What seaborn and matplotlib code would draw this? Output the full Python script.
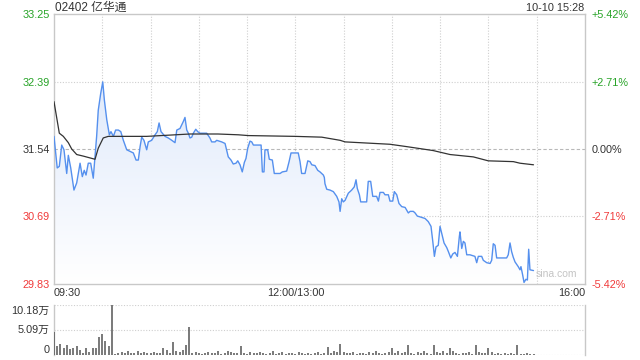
import numpy as np
import pandas as pd
import matplotlib
matplotlib.use("Agg")
import matplotlib.pyplot as plt
import seaborn as sns
from matplotlib.colors import LinearSegmentedColormap

sns.set_theme(style="white")
plt.rcParams['font.family'] = ['Liberation Sans', 'Noto Sans CJK SC', 'DejaVu Sans']

title = "02402 亿华通"
stamp = "10-10 15:28"
prev_close = 31.54
price_ticks = [33.25, 32.39, 31.54, 30.69, 29.83]
price_labels = ["33.25", "32.39", "31.54", "30.69", "29.83"]
pct_labels = ["+5.42%", "+2.71%", "0.00%", "-2.71%", "-5.42%"]
time_ticks = [0, 150, 330]
time_labels = ["09:30", "12:00/13:00", "16:00"]
vol_ticks = [10.18, 5.09, 0]
vol_labels = ["10.18万", "5.09万", "0"]

# minutes after 09:30 (lunch break removed)
price_min = [0, 2, 3.3, 4.8, 6.2, 7.9, 8.9, 10.4, 12.4, 14.1,
             16.2, 17.6, 18.8, 19.9, 21.3, 22.8, 24.4, 25.5, 26.5, 27.5,
             29, 30.3, 31.3, 32.8, 34.4, 35.4, 36.9, 38.3, 40, 41.5,
             43.1, 45.2, 47.2, 49.3, 51, 52.4, 53.5, 54.5, 55.9, 57.6,
             58.6, 60.7, 62.8, 64.2, 65.3, 66.5, 69, 71, 73.2, 75.2,
             76.3, 78.3, 80.4, 81.4, 82.5, 83.5, 84.5, 85.6, 86.6, 88.1,
             89.3, 90.7, 94.9, 96.9, 98, 100.1, 101.1, 104.2, 106.3, 108.3,
             110, 111.4, 113.1, 114.2, 115.6, 117, 118.3, 119.3, 120.4, 121.8,
             122.9, 123.9, 128.7, 129.5, 130.5, 131.1, 132.8, 133.8, 135.7, 136.9,
             140.5, 141.9, 144.6, 146.1, 147.3, 151.8, 152.9, 153.9, 156, 157.7,
             159.1, 160.2, 162.2, 163.9, 165.3, 166.4, 167.4, 168, 168.4, 169.5,
             171.5, 173.6, 175.7, 177.1, 177.8, 178.8, 179.8, 180.9, 182.9, 185,
             186.6, 187.7, 188.5, 189.8, 190.6, 194.3, 195.3, 196.8, 198.1, 200.5,
             201.6, 202.6, 204.7, 205.7, 207.8, 208.8, 210.5, 211.5, 213, 214.4,
             216.1, 218.2, 220.2, 221.3, 223.3, 224.4, 225.8, 227.5, 230.6, 232.6,
             234.3, 235.4, 236.4, 237.4, 238.8, 239.9, 241, 242.4, 244.1, 245.1,
             246.6, 247.8, 249.2, 250.7, 251.9, 252.3, 253.4, 254.4, 255.4, 256.5,
             258.5, 261.6, 262.7, 263.7, 265.8, 266.8, 268.9, 271, 272, 273,
             274.1, 275.1, 277.2, 281.3, 282.3, 283.4, 284.4, 285.4, 286.5, 288.5,
             289.6, 290.2, 291.3, 292.1, 293.3, 294.2, 295, 295.8, 298]
price_val = [31.70, 31.30, 31.32, 31.59, 31.53, 31.23, 31.46, 31.30, 31.02, 31.11,
             31.36, 31.19, 31.27, 31.21, 31.36, 31.36, 31.17, 31.44, 31.70, 32.03,
             32.24, 32.39, 32.16, 31.91, 31.72, 31.76, 31.70, 31.78, 31.78, 31.76,
             31.65, 31.53, 31.51, 31.49, 31.40, 31.40, 31.57, 31.69, 31.65, 31.53,
             31.63, 31.65, 31.72, 31.76, 31.87, 31.76, 31.70, 31.68, 31.65, 31.62,
             31.78, 31.80, 31.89, 31.94, 31.78, 31.74, 31.68, 31.69, 31.74, 31.79,
             31.76, 31.74, 31.74, 31.68, 31.63, 31.63, 31.65, 31.63, 31.61, 31.44,
             31.40, 31.35, 31.36, 31.39, 31.34, 31.25, 31.37, 31.42, 31.55, 31.64,
             31.63, 31.59, 31.59, 31.25, 31.25, 31.53, 31.53, 31.41, 31.40, 31.23,
             31.23, 31.25, 31.26, 31.38, 31.49, 31.49, 31.38, 31.23, 31.23, 31.39,
             31.38, 31.34, 31.33, 31.27, 31.25, 31.23, 31.21, 31.18, 31.10, 31.03,
             31.02, 31.00, 30.94, 30.87, 30.75, 30.91, 30.87, 30.89, 30.98, 31.02,
             31.06, 31.15, 31.04, 30.96, 30.87, 30.87, 31.13, 31.13, 30.94, 30.94,
             30.88, 30.99, 30.99, 30.96, 30.96, 30.88, 30.88, 31.00, 30.96, 30.85,
             30.81, 30.80, 30.73, 30.75, 30.75, 30.73, 30.69, 30.68, 30.66, 30.62,
             30.56, 30.37, 30.18, 30.30, 30.32, 30.56, 30.47, 30.35, 30.29, 30.24,
             30.16, 30.21, 30.23, 30.18, 30.43, 30.49, 30.28, 30.37, 30.35, 30.20,
             30.20, 30.18, 30.10, 30.18, 30.18, 30.13, 30.10, 30.09, 30.13, 30.34,
             30.32, 30.16, 30.16, 30.16, 30.20, 30.35, 30.24, 30.17, 30.11, 30.05,
             30.01, 30.05, 29.94, 29.85, 29.89, 29.88, 30.27, 30.01, 30.00]

avg_min = [0, 3.3, 5.8, 8.9, 11, 14.1, 18.2, 25.5, 27.5, 30.6, 33.7, 57.6, 84.5,
           101.9, 114.5, 120.8, 149.8, 166.4, 177.8, 180.9, 208.8, 219.2, 235.7,
           246.1, 260.6, 269.9, 285.5, 289.6, 298]
avg_val = [32.14, 31.74, 31.70, 31.62, 31.54, 31.47, 31.45, 31.41, 31.55, 31.68, 31.70,
           31.70, 31.73, 31.73, 31.72, 31.71, 31.70, 31.69, 31.65, 31.63, 31.60, 31.57,
           31.52, 31.47, 31.44, 31.39, 31.38, 31.36, 31.34]

# volume (万), one bar per 2 minutes
vol_min = list(range(0, 300, 2))
vol_val = [4.75, 1.9, 2.2, 1.5, 2.0, 1.2, 1.5, 1.9, 1.0, 0.5, 1.5, 0.7, 1.4, 1.4, 3.7, 4.2, 2.8, 1.9, 10.18,
           0.3, 0.5, 0.7, 0.4, 0.8, 0.5, 0.4, 0.9, 0.4, 0.6, 0.5, 0.4, 0.7, 0.4, 0.5,
           1.5, 1.0, 0.4, 2.6, 0.8, 0.6, 1.0, 2.0, 5.8,
           0.4, 0.6, 0.4, 0.3, 0.5, 0.7, 0.4, 0.5, 0.8, 0.3, 0.4, 0.9, 0.6, 0.5, 0.4,
           1.9,
           0.4, 0.3, 0.6, 0.5, 0.4, 0.7, 0.4, 0.3, 0.5, 0.8, 0.3, 0.4, 0.6, 0.3, 0.5, 0.4,
           0.3, 0.6, 0.4, 0.3, 0.5, 0.3, 0.4, 0.7, 0.3, 0.5,
           1.7,
           0.5, 0.8, 0.6,
           2.2,
           0.7, 0.4, 0.5, 0.6, 0.3, 0.4, 0.5, 0.3, 0.6, 0.4, 0.9, 0.5, 0.3, 0.4, 0.6,
           1.4,
           0.5, 0.9, 0.4, 0.6,
           2.0,
           0.5, 0.3, 0.6, 0.4, 0.8, 0.5, 0.3,
           2.0,
           0.6, 0.4, 0.9, 0.5,
           1.4,
           0.8, 0.4, 0.3, 0.5, 0.4, 0.6, 0.3,
           2.0,
           0.7, 0.4, 0.5,
           1.5,
           0.6, 0.3, 0.4, 0.3, 0.5, 0.3, 0.4, 0.3,
           2.0,
           0.3, 0.2, 0.4, 0.2, 0.3]

GREEN = "#27a327"
RED = "#f03a3a"
DARK = "#333333"
GRID = "#cfcfcf"
SPINE = "#c8c8c8"
FS = 7.8

price_df = pd.DataFrame({"t": price_min, "p": price_val})
avg_df = pd.DataFrame({"t": avg_min, "p": avg_val})

fig = plt.figure(figsize=(6.4, 3.6), dpi=100)
ax = fig.add_axes([54 / 640, 1 - 284 / 360, 531 / 640, 270 / 360])
axv = fig.add_axes([54 / 640, 1 - 355 / 360, 531 / 640, 50 / 360])

ymin, ymax = price_ticks[-1], price_ticks[0]

# gradient fill under price line
fill = ax.fill_between(price_min, price_val, ymin, color="none", lw=0)
grad = np.linspace(1, 0, 256).reshape(-1, 1)
cmap = LinearSegmentedColormap.from_list("g", ["#ffffff", "#d6e3fa"])
im = ax.imshow(grad, extent=[0, 330, ymin, ymax], aspect="auto", cmap=cmap,
               origin="upper", zorder=1)
im.set_clip_path(fill.get_paths()[0], transform=ax.transData)

# grid
for m in range(30, 330, 30):
    ax.axvline(m, color=GRID, lw=0.8, ls=(0, (1, 1.5)), zorder=0.5)
for v in (price_ticks[1], price_ticks[3]):
    ax.axhline(v, color=GRID, lw=0.8, ls=(0, (1, 1.5)), zorder=0.5)
ax.axhline(prev_close, color="#b8b8b8", lw=0.8, ls=(0, (3, 2)), zorder=0.5)

sns.lineplot(data=price_df, x="t", y="p", ax=ax, color="#5590ee", lw=1.0,
             estimator=None, sort=False, zorder=3)
sns.lineplot(data=avg_df, x="t", y="p", ax=ax, color=DARK, lw=0.9,
             estimator=None, sort=False, zorder=4)

ax.set_xlim(0, 330)
ax.set_ylim(ymin, ymax)
ax.set_xlabel("")
ax.set_ylabel("")
ax.set_yticks(price_ticks)
ax.set_yticklabels(price_labels)
cols = [GREEN, GREEN, DARK, RED, RED]
for lab, c in zip(ax.get_yticklabels(), cols):
    lab.set_color(c)
ax.set_xticks(time_ticks)
ax.set_xticklabels(time_labels)
xl = ax.get_xticklabels()
xl[0].set_ha("left")
xl[2].set_ha("right")
ax.tick_params(axis="both", length=0, labelsize=FS, pad=3)
ax.tick_params(axis="x", colors=DARK, pad=3)
for s in ax.spines.values():
    s.set_color(SPINE)
    s.set_linewidth(1.0)

axr = ax.twinx()
axr.set_ylim(ymin, ymax)
axr.set_yticks(price_ticks)
axr.set_yticklabels(pct_labels)
for lab, c in zip(axr.get_yticklabels(), cols):
    lab.set_color(c)
axr.tick_params(axis="y", length=0, labelsize=FS, pad=5)
for s in axr.spines.values():
    s.set_visible(False)

ax.text(0.985, 0.02, "sina.com", transform=ax.transAxes, ha="right", va="bottom",
        fontsize=7.5, color="#c4c4c4", zorder=6)

fig.text(55 / 640, 1 - 8 / 360, title, fontsize=8.5, color=DARK, ha="left", va="center")
fig.text(584 / 640, 1 - 8 / 360, stamp, fontsize=FS, color=DARK, ha="right", va="center")

# volume
axv.vlines(vol_min, 0, vol_val, colors="#555555", lw=1.1, zorder=3)
axv.set_xlim(0, 330)
axv.set_ylim(0, vol_ticks[0])
for v in vol_ticks:
    axv.axhline(v, color=GRID, lw=0.8, ls=(0, (1, 1.5)), zorder=1)
axv.set_xticks([])
axv.set_yticks([])
for s in ("top", "bottom"):
    axv.spines[s].set_visible(False)
for s in ("right", "left"):
    axv.spines[s].set_color(SPINE)
    axv.spines[s].set_linewidth(1.0)
label_pos = [8.9, 5.09, 0]
vas = ["center", "center", "bottom"]
for v, lab, va in zip(label_pos, vol_labels, vas):
    axv.text(-0.008, v, lab, transform=axv.get_yaxis_transform(), ha="right", va=va,
             fontsize=FS, color=DARK)

fig.savefig("out.png", dpi=100)
